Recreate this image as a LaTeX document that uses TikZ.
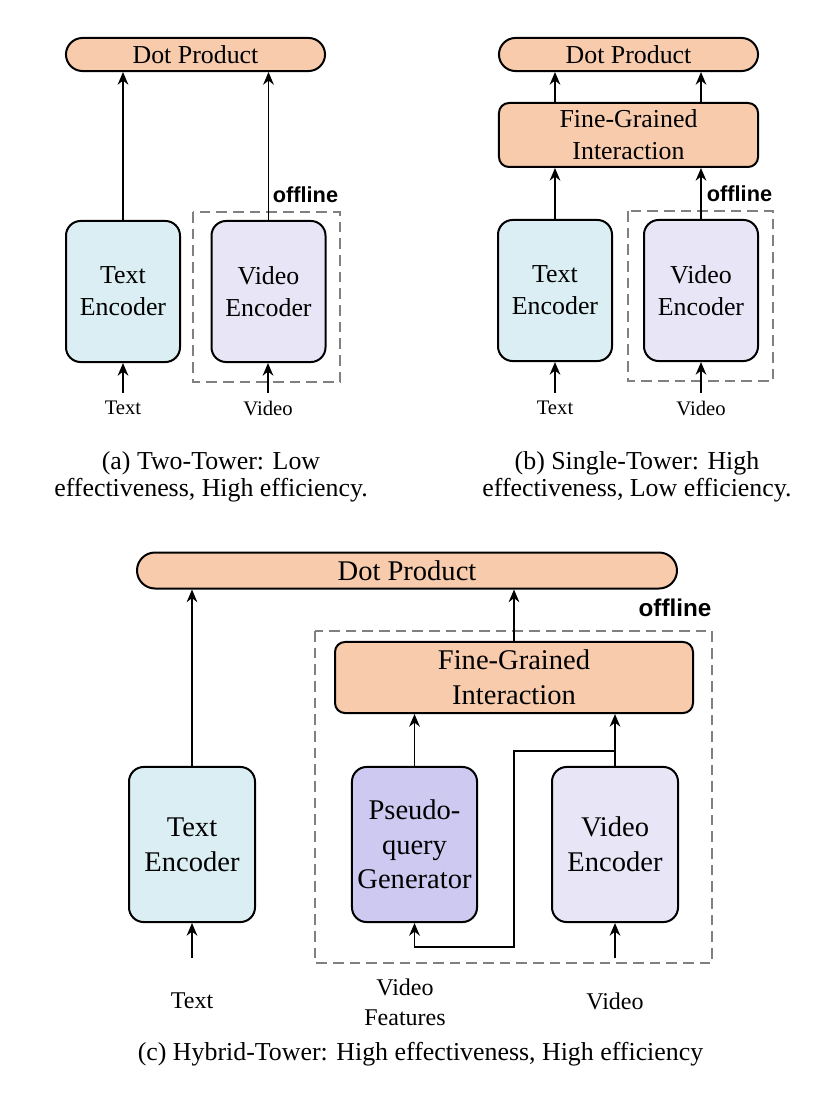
\documentclass[tikz,border=0pt]{standalone}
\usepackage{fontspec}
\setmainfont{Liberation Serif}
\newfontfamily\offfont{Liberation Sans}
\usetikzlibrary{arrows.meta}
\definecolor{dotfill}{RGB}{248,203,173}
\definecolor{textfill}{RGB}{218,238,243}
\definecolor{videofill}{RGB}{232,230,246}
\definecolor{pseudofill}{RGB}{205,201,240}
\definecolor{offgray}{RGB}{128,128,128}
\tikzset{every picture/.style={line width=0.75pt}}
\tikzset{
  boxline/.style={draw=black, line width=1.5pt, align=center, inner sep=0pt},
  dotbox/.style={boxline, fill=dotfill, rounded corners=12.4pt, minimum width=194.3pt, minimum height=24.8pt, font=\fontsize{19.4}{23}\selectfont},
  fgbox/.style={boxline, fill=dotfill, rounded corners=7.5pt, minimum width=194.3pt, minimum height=48pt, font=\fontsize{19.4}{24}\selectfont},
  encbox/.style={boxline, rounded corners=11pt, minimum width=85.5pt, minimum height=105.8pt, font=\fontsize{19.4}{24}\selectfont},
  bigbox/.style={font=\fontsize{21.4}{26}\selectfont},
  offzone/.style={draw=offgray, line width=2pt, dash pattern=on 8pt off 4.5pt},
  arr/.style={-{Stealth[length=9.5pt,width=8pt]}, line width=1.25pt},
  lbl/.style={inner sep=0.75pt, font=\fontsize{15.5}{18}\selectfont},
  biglbl/.style={inner sep=0.75pt, align=center, font=\fontsize{18}{22.5}\selectfont},
  offtext/.style={inner sep=0.75pt, font=\offfont\bfseries\fontsize{16.3}{19}\selectfont},
  capt/.style={inner sep=0.75pt, align=center, font=\fontsize{19.4}{20.25}\selectfont}
}

\begin{document}
\begin{tikzpicture}[x=0.75pt,y=0.75pt,yscale=-1,xscale=1]
\useasboundingbox (0,0) rectangle (838,1098);

%%%%% (a) Two-Tower
%Shape: Dashed Rect
\draw[offzone] (193,212) rectangle (340,382);
%Shape: Rounded Rect
\node[dotbox] (dpA) at (195.5,54.5) {Dot Product};
\node[encbox, fill=textfill] (teA) at (123,291.5) {Text\\Encoder};
\node[encbox, fill=videofill] (veA) at (268.5,291.5) {Video\\Encoder};
% Text Node
\node[offtext] (offA) at (305.5,195) {offline};
\node[lbl] (lblTA) at (123,408) {Text};
\node[lbl] (lblVA) at (268,408) {Video};
\node[capt] (capA) at (211,476.5) {(a) Two-Tower: Low\\effectiveness, High efficiency.};
\coordinate (inTA) at (123,393);
\coordinate (inVA) at (268,393);
%Straight Lines
\draw[arr] (teA.north) -- (teA.north |- dpA.south);
\draw[arr] (veA.north) -- (veA.north |- dpA.south);
\draw[arr] (inTA) -- (teA.south);
\draw[arr] (inVA) -- (inVA |- veA.south);

%%%%% (b) Single-Tower
%Shape: Dashed Rect
\draw[offzone] (628,211) rectangle (773,381);
%Shape: Rounded Rect
\node[dotbox] (dpB) at (628.5,54.5) {Dot Product};
\node[fgbox] (fgB) at (628.5,135) {Fine-Grained\\Interaction};
\node[encbox, fill=textfill] (teB) at (555,290.5) {Text\\Encoder};
\node[encbox, fill=videofill] (veB) at (701,290.5) {Video\\Encoder};
% Text Node
\node[offtext] (offB) at (739.5,194) {offline};
\node[lbl] (lblTB) at (555,408) {Text};
\node[lbl] (lblVB) at (701,408) {Video};
\node[capt] (capB) at (637,476.5) {(b) Single-Tower: High\\effectiveness, Low efficiency.};
\coordinate (inTB) at (555,393);
\coordinate (inVB) at (701,393);
%Straight Lines
\draw[arr] (teB.north) -- (teB.north |- fgB.south);
\draw[arr] (veB.north) -- (veB.north |- fgB.south);
\draw[arr] (teB.north |- fgB.north) -- (teB.north |- dpB.south);
\draw[arr] (veB.north |- fgB.north) -- (veB.north |- dpB.south);
\draw[arr] (inTB) -- (teB.south);
\draw[arr] (inVB) -- (veB.south);

%%%%% (c) Hybrid-Tower
%Shape: Dashed Rect
\draw[offzone] (315,631) rectangle (712,963);
%Shape: Rounded Rect
\node[dotbox, bigbox, minimum width=405pt, minimum height=27pt, rounded corners=13.5pt] (dpC) at (407,570.5) {Dot Product};
\node[fgbox, bigbox, minimum width=268.5pt, minimum height=53.3pt] (fgC) at (514,677.5) {Fine-Grained\\Interaction};
\node[encbox, bigbox, fill=textfill, minimum width=94.5pt, minimum height=116.3pt] (teC) at (192,844.5) {Text\\Encoder};
\node[encbox, bigbox, fill=pseudofill, minimum width=93.8pt, minimum height=116.3pt] (pqC) at (414.5,844.5) {Pseudo-\\query\\Generator};
\node[encbox, bigbox, fill=videofill, minimum width=94.5pt, minimum height=116.3pt] (veC) at (615,844.5) {Video\\Encoder};
% Text Node
\node[offtext, font=\offfont\bfseries\fontsize{18.2}{21}\selectfont] (offC) at (675,608) {offline};
\node[biglbl] (lblTC) at (192,1001) {Text};
\node[biglbl] (lblFC) at (405,1002) {Video\\Features};
\node[biglbl] (lblVC) at (615,1001) {Video};
\node[capt] (capC) at (420.5,1054) {(c) Hybrid-Tower: High effectiveness, High efficiency};
\coordinate (inTC) at (192,958);
\coordinate (inVC) at (615,958);
\coordinate (brC) at (615,751);
\coordinate (bendC1) at (514,751);
\coordinate (bendC2) at (514,947);
%Straight Lines
\draw[arr] (teC.north) -- (teC.north |- dpC.south);
\draw[arr] (fgC.north) -- (fgC.north |- dpC.south);
\draw[arr] (pqC.north) -- (pqC.north |- fgC.south);
\draw[arr] (veC.north) -- (veC.north |- fgC.south);
\draw[arr] (inTC) -- (teC.south);
\draw[arr] (inVC) -- (veC.south);
%Straight Lines: branch to generator
\draw[arr] (brC) -- (bendC1) -- (bendC2) -| (pqC.south);

\end{tikzpicture}
\end{document}
